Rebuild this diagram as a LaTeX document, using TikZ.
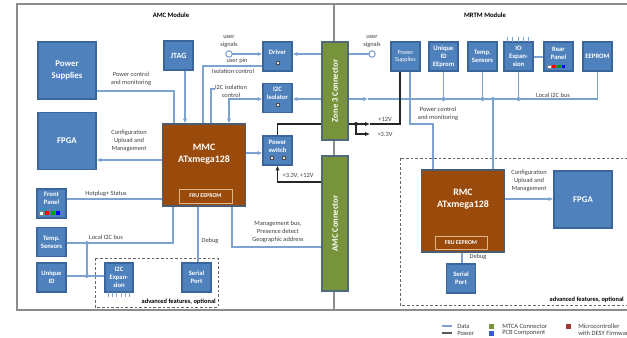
\documentclass[tikz,border=0pt]{standalone}
\usepackage{fontspec}
\setmainfont{Carlito}
\usetikzlibrary{arrows.meta}
\definecolor{pcbfill}{HTML}{4F81BD}
\definecolor{pcbline}{HTML}{3A669C}
\definecolor{mcfill}{HTML}{9A4A0A}
\definecolor{mcline}{HTML}{4D5D70}
\definecolor{gfill}{HTML}{77933C}
\definecolor{gline}{HTML}{4F6A7A}
\definecolor{dataline}{HTML}{7CA2D0}
\definecolor{pwrline}{HTML}{262626}
\definecolor{framec}{HTML}{8C8C8C}
\definecolor{txt}{HTML}{404040}
\definecolor{legred}{HTML}{9E3A36}
\definecolor{frucol}{HTML}{E2B48A}
\tikzset{
  pcb/.style={draw=pcbline, fill=pcbfill, line width=0.8pt, text=white,
    font=\bfseries\fontsize{5}{6}\selectfont, align=center, inner sep=0pt,
    minimum width=21.75pt, minimum height=21.75pt},
  bigpcb/.style={pcb, minimum width=43.5pt, minimum height=42.75pt,
    font=\bfseries\fontsize{6.6}{8.5}\selectfont},
  mc/.style={draw=mcline, fill=mcfill, line width=0.8pt, minimum width=62pt,
    minimum height=61.5pt, inner sep=0pt},
  conn/.style={draw=gline, fill=gfill, line width=0.8pt, minimum width=19.5pt, inner sep=0pt},
  conntext/.style={text=white, font=\bfseries\fontsize{6.4}{7}\selectfont, rotate=90},
  inbox/.style={text=white, font=\bfseries\fontsize{5}{6}\selectfont, align=center, inner sep=0pt},
  mctext/.style={text=white, font=\bfseries\fontsize{7.4}{9}\selectfont, align=center, inner sep=0pt},
  fru/.style={draw=frucol, line width=0.6pt, text=white, font=\bfseries\fontsize{4.4}{5}\selectfont, inner sep=0pt},
  lbl/.style={text=txt, font=\fontsize{4.8}{6}\selectfont, align=center, inner sep=0pt},
  hdr/.style={text=black, font=\bfseries\fontsize{5}{6}\selectfont, inner sep=0pt},
  opt/.style={text=black, font=\bfseries\fontsize{4.8}{6}\selectfont, inner sep=0pt, anchor=east},
  data/.style={draw=dataline, line width=0.8pt},
  darr/.style={data, -{Latex[length=3.6pt,width=3.2pt]}},
  dboth/.style={data, {Latex[length=3.6pt,width=3.2pt]}-{Latex[length=3.6pt,width=3.2pt]}},
  pwr/.style={draw=pwrline, line width=0.8pt},
  parr/.style={pwr, -{Latex[length=3.6pt,width=3.2pt]}},
  icon/.style={draw=gray!60!black, fill=gray!20, line width=0.3pt},
  leg/.style={text=txt, font=\fontsize{4.9}{6}\selectfont, inner sep=0pt, anchor=west},
  frameline/.style={draw=framec, line width=0.8pt},
  dashbox/.style={draw=gray!80!black, line width=0.6pt, dash pattern=on 2pt off 1.5pt},
}
\begin{document}
\begin{tikzpicture}[x=0.75pt,y=-0.75pt]
\useasboundingbox (0,0) rectangle (627,338);
\fill[white] (0,0) rectangle (627,338);

% frame
\draw[frameline] (640,4) -- (17,4) -- (17,310) -- (640,310);
\draw[frameline] (334,4) -- (334,310);
\node[hdr] (amch) at (171,15) {AMC Module};
\node[hdr] (mrtmh) at (485,15) {MRTM Module};

% dashed areas
\draw[dashbox] (95,258) rectangle (218,307);
\draw[dashbox] (400,158) rectangle (640,305);
\node[opt] (opt1) at (216,302) {advanced features, optional};
\node[opt] (opt2) at (624,300) {advanced features, optional};

% ---------- AMC side ----------
\node[bigpcb] (psA) at (67,70.5) {Power\\Supplies};
\node[bigpcb] (fpgaA) at (67,141) {FPGA};
\node[pcb, font=\bfseries\fontsize{6}{7}\selectfont] (jtag) at (178.5,55.5) {JTAG};
\node[pcb] (drv) at (277.5,56.5) {};
\node[inbox] (drvt) at (277.5,52) {Driver};
\draw[icon] (276,61.5) rectangle (279,64.5);
\node[pcb] (iso) at (277.5,98) {};
\node[inbox] (isot) at (277.5,93) {I2C\\Isolator};
\draw[icon] (276,103.5) rectangle (279,106.5);
\node[pcb] (psw) at (277.5,150.5) {};
\node[inbox] (pswt) at (277.5,146) {Power\\switch};
\draw[icon] (270,156.5) rectangle (273,159.5);
\draw[icon] (282,156.5) rectangle (285,159.5);

\node[mc] (mmc) at (204,165) {};
\node[mctext] (mmct) at (204,154) {MMC\\ATxmega128};
\node[fru, minimum width=39.75pt, minimum height=10.5pt] (fruA) at (205.5,196) {FRU EEPROM};

\node[conn, minimum height=73.5pt] (z3) at (335,91) {};
\node[conntext] (z3t) at (335,91) {Zone 3 Connector};
\node[conn, minimum height=101.25pt] (amcc) at (335,223.5) {};
\node[conntext] (amcct) at (335,223.5) {AMC Connector};

\node[pcb] (fp) at (51.5,203.5) {};
\node[inbox] (fpt) at (51.5,198.5) {Front\\Panel};
\draw[fill=white, draw=gray, line width=0.3pt] (39.5,211) rectangle (43.5,215);
\fill[red] (45,211) rectangle (49,215);
\fill[green!60!black] (50.5,211) rectangle (54.5,215);
\fill[blue] (56,211) rectangle (60,215);
\node[pcb] (tsA) at (51.5,242) {Temp.\\Sensors};
\node[pcb] (uidA) at (51.5,277.5) {Unique\\ID};
\node[pcb, minimum width=21pt] (i2cx) at (119,277.5) {I2C\\Expan-\\sion};
\foreach \px in {108,112.3,116.6,120.9,125.2,129.5} \draw[data, line width=0.5pt] (\px,292) -- (\px,297);
\node[pcb] (serA) at (196.5,277.5) {Serial\\Port};

% AMC connections
\draw[data] (psA.east |- 0,91) -| (mmc.north -| 174,0);
\node[lbl] (l1) at (131,79) {Power control\\and monitoring};
\draw[darr] (jtag.south -| 185,0) -- (mmc.north -| 185,0);
\draw[data, fill=white] (229,54) circle (2.4pt);
\coordinate (usig) at (231.5,54);
\node[lbl] (l2) at (229,41) {user\\signals};
\draw[darr] (usig) -- (drv.west |- 0,54);
\draw[data] (drv.west |- 0,66) -| (mmc.north -| 203,0);
\node[lbl] (l3) at (237,61) {user pin};
\node[lbl] (l4) at (233,71) {Isolation control};
\draw[data] (mmc.north -| 211,0) |- (215,89);
\node[lbl] (l5) at (231,91) {I2C isolation\\control};
\draw[dboth] (mmc.north -| 229,0) |- (iso.west |- 0,99);
\draw[darr] (z3.west |- 0,54) -- (drv.east |- 0,54);
\draw[darr] (z3.west |- 0,99) -- (iso.east |- 0,99);
\draw[darr] (mmc.east |- 0,153) -- (psw.west |- 0,153);
\draw[pwr] (z3.west |- 0,124) -| (psw.north);
\draw[parr] (amcc.west |- 0,182) -| (psw.south);
\node[lbl] (l6) at (298,176) {+3.3V, +12V};
\draw[darr] (mmc.west |- 0,160) -- (fpgaA.east |- 0,160);
\node[lbl] (l7) at (129,141) {Configuration\\Upload and\\Management};
\draw[data] (fp.east |- 0,199) -- (mmc.west |- 0,199);
\node[lbl] (l8) at (106,194) {Hotplug+ Status};
\coordinate (j1) at (87,243);
\coordinate (j2) at (87,276);
\draw[data] (mmc.south -| 173,0) |- (j1);
\draw[data] (tsA.east |- j1) -- (j1) -- (j2);
\draw[data] (uidA.east |- j2) -- (i2cx.west |- j2);
\fill[dataline] (j1) circle (1.5pt);
\fill[dataline] (j2) circle (1.5pt);
\node[lbl] (l9) at (106,237) {Local I2C bus};
\draw[data] (mmc.south -| 198,0) -- (serA.north -| 198,0);
\node[lbl] (l10) at (210,241) {Debug};
\draw[data] (mmc.south -| 232,0) |- (amcc.west |- 0,247);
\node[lbl] (l11) at (278,232) {Management bus,\\Presence detect\\Geographic address};

% ---------- MRTM side ----------
\node[pcb, font=\fontsize{4.6}{5.6}\selectfont] (psB) at (405.5,56.5) {Power\\Supplies};
\node[pcb] (uidB) at (443.5,56.5) {Unique\\ID\\EEprom};
\node[pcb] (tsB) at (482.5,56.5) {Temp.\\Sensors};
\node[pcb] (iox) at (518.5,56.5) {IO\\Expan-\\sion};
\foreach \px in {507.5,512.8,518.1,523.4,528.7} \draw[data, line width=0.5pt] (\px,37.5) -- (\px,42);
\node[pcb] (rear) at (558.5,56.5) {};
\node[inbox] (reart) at (558.5,53) {Rear\\Panel};
\draw[fill=white, draw=gray, line width=0.3pt] (547.5,65) rectangle (551,68.5);
\fill[red] (552.3,65) rectangle (555.8,68.5);
\fill[green!60!black] (557.1,65) rectangle (560.6,68.5);
\fill[blue] (561.9,65) rectangle (565.4,68.5);
\node[pcb] (eep) at (597.5,56.5) {EEPROM};

\node[mc] (rmc) at (463,211) {};
\node[mctext] (rmct) at (463,199.5) {RMC\\ATxmega128};
\node[fru, minimum width=39pt, minimum height=9.75pt] (fruB) at (461,242.5) {FRU EEPROM};
\node[pcb] (serB) at (461,278.5) {Serial\\Port};
\node[bigpcb] (fpgaB) at (583,199.5) {FPGA};

% MRTM connections
\draw[data, fill=white] (372,54) circle (2.4pt);
\coordinate (usig2) at (369.5,54);
\node[lbl] (l12) at (372,41) {user\\signals};
\draw[data] (z3.east |- 0,54) -- (usig2);
\coordinate (bus1) at (368,99);
\coordinate (busE) at (597.5,99);
\draw[darr] (z3.east |- 0,99) -- (bus1);
\draw[data] (bus1) -- (busE) -- (eep.south);
\draw[data] (uidB.south) -- (uidB.south |- busE);
\draw[data] (tsB.south) -- (tsB.south |- busE);
\draw[data] (iox.south) -- (iox.south |- busE);
\draw[data] (rmc.north -| 493,0) -- (493,99);
\foreach \px in {443.5,482.5,493,518.5} \fill[dataline] (\px,99) circle (1.5pt);
\node[lbl] (l13) at (553,95) {Local I2C bus};
\draw[data] (iox.east |- 0,57) -- (rear.west |- 0,57);

\coordinate (pj) at (356,124);
\coordinate (pa) at (370,124);
\draw[pwr] (z3.east |- 0,124) -- (pj);
\draw[parr] (pj) -- (pa);
\draw[pwr] (pa) -| (psB.south -| 400,0);
\draw[parr] (pj) |- (370,134);
\fill[pwrline] (pj) circle (1.5pt);
\node[lbl] (l14) at (385,119) {+12V};
\node[lbl] (l15) at (385,134) {+3.3V};

\draw[data] (psB.south -| 410,0) |- (433,124) -- (rmc.north -| 433,0);
\node[lbl] (l16) at (438,114) {Power control\\and monitoring};
\draw[darr] (rmc.east |- 0,199) -- (fpgaB.west |- 0,199);
\node[lbl] (l17) at (529,181) {Configuration\\Upload and\\Management};
\draw[data] (rmc.south -| 462,0) -- (serB.north -| 462,0);
\node[lbl] (l18) at (478,257) {Debug};

% legend
\draw[data] (442,326) -- (452,326);
\node[leg] (lg1) at (457,326) {Data};
\draw[pwr, draw=gray!70!black] (442,333) -- (452,333);
\node[leg] (lg2) at (457,333) {Power};
\fill[gfill] (489,324) rectangle (494,329);
\node[leg] (lg3) at (502,326) {MTCA Connector};
\fill[pcbfill!70!blue] (489,331) rectangle (494,336);
\node[leg] (lg4) at (502,333) {PCB Component};
\fill[legred] (566,324) rectangle (571,329);
\node[leg] (lg5) at (578,326) {Microcontroller};
\node[leg] (lg6) at (578,333) {with DESY Firmware};
\end{tikzpicture}
\end{document}
